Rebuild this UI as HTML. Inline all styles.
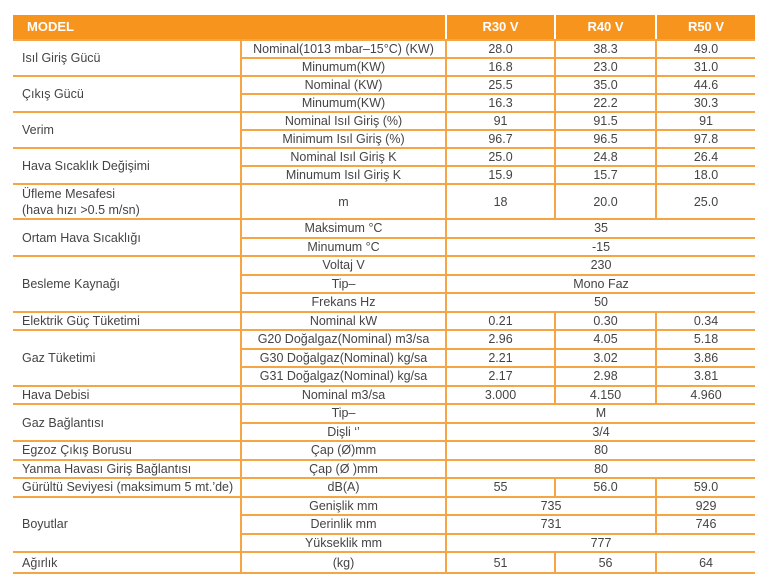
<!DOCTYPE html>
<html><head><meta charset="utf-8"><style>
html,body{margin:0;padding:0;background:#fff;width:768px;height:587px;overflow:hidden}
table{position:absolute;left:13px;top:15px;width:742px;border-collapse:collapse;table-layout:fixed;font-family:"Liberation Sans",sans-serif;font-size:12.5px;color:#444}
td{border:2px solid #f6a545;padding:0;text-align:center;height:16px;line-height:14px;white-space:nowrap;overflow:hidden}
td.l{border-left:none;text-align:left;padding-left:9px}
tr td:last-child{border-right:none}
tr.h td{background:#f7941d;color:#fff;font-weight:bold;font-size:13px;height:24px;border-top:none;border-color:#fff;border-bottom:2px solid #f6a545}
tr.h td.l{padding-left:14px}
tr.b td{height:16.5px}
</style></head><body>
<table>
<colgroup><col style="width:228px"><col style="width:205px"><col style="width:109px"><col style="width:101px"><col style="width:99px"></colgroup>
<tr class="h"><td class="l" colspan="2">MODEL</td><td>R30 V</td><td>R40 V</td><td>R50 V</td></tr>
<tr><td class="l" rowspan="2">Isıl Giriş Gücü</td><td>Nominal(1013 mbar–15°C) (KW)</td><td>28.0</td><td>38.3</td><td>49.0</td></tr>
<tr><td>Minumum(KW)</td><td>16.8</td><td>23.0</td><td>31.0</td></tr>
<tr><td class="l" rowspan="2">Çıkış Gücü</td><td>Nominal (KW)</td><td>25.5</td><td>35.0</td><td>44.6</td></tr>
<tr><td>Minumum(KW)</td><td>16.3</td><td>22.2</td><td>30.3</td></tr>
<tr><td class="l" rowspan="2">Verim</td><td>Nominal Isıl Giriş (%)</td><td>91</td><td>91.5</td><td>91</td></tr>
<tr><td>Minimum Isıl Giriş (%)</td><td>96.7</td><td>96.5</td><td>97.8</td></tr>
<tr><td class="l" rowspan="2">Hava Sıcaklık Değişimi</td><td>Nominal Isıl Giriş K</td><td>25.0</td><td>24.8</td><td>26.4</td></tr>
<tr><td>Minumum Isıl Giriş K</td><td>15.9</td><td>15.7</td><td>18.0</td></tr>
<tr><td class="l" style="height:33px;line-height:16px">Üfleme Mesafesi<br>(hava hızı &gt;0.5 m/sn)</td><td>m</td><td>18</td><td>20.0</td><td>25.0</td></tr>
<tr class="b"><td class="l" rowspan="2">Ortam Hava Sıcaklığı</td><td>Maksimum °C</td><td colspan="3">35</td></tr>
<tr class="b"><td>Minumum °C</td><td colspan="3">-15</td></tr>
<tr class="b"><td class="l" rowspan="3">Besleme Kaynağı</td><td>Voltaj V</td><td colspan="3">230</td></tr>
<tr class="b"><td>Tip–</td><td colspan="3">Mono Faz</td></tr>
<tr class="b"><td>Frekans Hz</td><td colspan="3">50</td></tr>
<tr class="b"><td class="l">Elektrik Güç Tüketimi</td><td>Nominal kW</td><td>0.21</td><td>0.30</td><td>0.34</td></tr>
<tr class="b"><td class="l" rowspan="3">Gaz Tüketimi</td><td>G20 Doğalgaz(Nominal) m3/sa</td><td>2.96</td><td>4.05</td><td>5.18</td></tr>
<tr class="b"><td>G30 Doğalgaz(Nominal) kg/sa</td><td>2.21</td><td>3.02</td><td>3.86</td></tr>
<tr class="b"><td>G31 Doğalgaz(Nominal) kg/sa</td><td>2.17</td><td>2.98</td><td>3.81</td></tr>
<tr class="b"><td class="l">Hava Debisi</td><td>Nominal m3/sa</td><td>3.000</td><td>4.150</td><td>4.960</td></tr>
<tr class="b"><td class="l" rowspan="2">Gaz Bağlantısı</td><td>Tip–</td><td colspan="3">M</td></tr>
<tr class="b"><td>Dişli ‘’</td><td colspan="3">3/4</td></tr>
<tr class="b"><td class="l">Egzoz Çıkış Borusu</td><td>Çap (Ø)mm</td><td colspan="3">80</td></tr>
<tr class="b"><td class="l">Yanma Havası Giriş Bağlantısı</td><td>Çap (Ø )mm</td><td colspan="3">80</td></tr>
<tr class="b"><td class="l">Gürültü Seviyesi (maksimum 5 mt.’de)</td><td>dB(A)</td><td>55</td><td>56.0</td><td>59.0</td></tr>
<tr class="b"><td class="l" rowspan="3">Boyutlar</td><td>Genişlik mm</td><td colspan="2">735</td><td>929</td></tr>
<tr class="b"><td>Derinlik mm</td><td colspan="2">731</td><td>746</td></tr>
<tr class="b"><td>Yükseklik mm</td><td colspan="3">777</td></tr>
<tr><td class="l" style="height:19px">Ağırlık</td><td>(kg)</td><td>51</td><td>56</td><td>64</td></tr>
</table>
</body></html>
